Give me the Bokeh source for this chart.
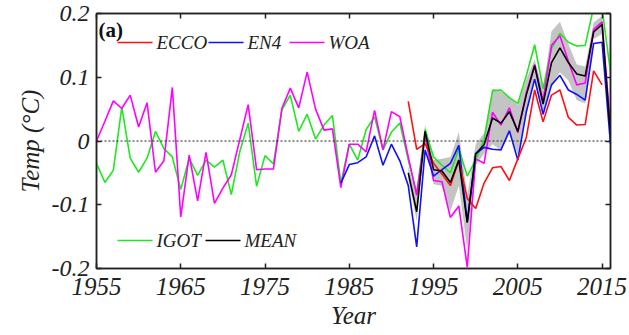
from bokeh.plotting import figure
from bokeh.models import (Span, Label, LinearAxis, FixedTicker, Range1d, Arrow)
from bokeh.embed import file_html
from bokeh.resources import INLINE

# ---------------- data ----------------
years_long = list(range(1955, 2017))
woa = [0.000, 0.031, 0.063, 0.051, 0.072, 0.022, 0.060, -0.049, -0.031, 0.084,
       -0.119, -0.022, -0.094, -0.018, -0.098, -0.074, -0.053, 0.002, 0.057, -0.045,
       -0.044, -0.044, 0.051, 0.083, 0.052, 0.108, 0.050, 0.017, 0.019, -0.073,
       -0.005, -0.005, -0.017, 0.048, -0.014, 0.046, 0.038, -0.025, -0.085, 0.010,
       -0.062, -0.064, -0.120, -0.102, -0.198, -0.028, -0.035, 0.045, 0.025, 0.052,
       0.013, 0.075, 0.120, 0.063, 0.150, 0.165, 0.125, 0.088, 0.091, 0.175,
       0.187, 0.020]
igot = [-0.035, -0.065, -0.046, 0.053, -0.027, -0.049, -0.027, 0.015, -0.012, -0.025,
        -0.076, -0.027, -0.054, -0.030, -0.041, -0.030, -0.084, -0.017, 0.028, -0.071,
        -0.023, -0.036, 0.049, 0.072, 0.015, 0.042, 0.003, 0.025, 0.040, -0.066,
        -0.005, -0.030, 0.018, 0.038, -0.014, 0.014, 0.028, -0.030, -0.082, 0.018,
        -0.025, -0.038, -0.050, -0.012, -0.055, -0.030, 0.002, 0.079, 0.080, 0.068,
        0.059, 0.102, 0.151, 0.082, 0.145, 0.169, 0.155, 0.149, 0.150, 0.210,
        0.208, 0.108]

years_en4 = list(range(1984, 2017))
en4 = [-0.066, -0.037, -0.034, -0.025, 0.008, -0.038, -0.005, -0.031, -0.070, -0.166,
       -0.014, -0.055, -0.045, -0.035, -0.007, -0.127, -0.020, -0.010, -0.013, -0.014,
       0.016, -0.030, 0.045, 0.097, 0.042, 0.088, 0.103, 0.080, 0.073, 0.064,
       0.153, 0.155, -0.005]

years_ecco = list(range(1992, 2016))
ecco = [0.062, -0.013, -0.004, -0.035, -0.052, -0.070, -0.030, -0.090, -0.106, -0.066,
        -0.042, -0.040, -0.062, -0.028, 0.005, 0.080, 0.030, 0.072, 0.080, 0.037,
        0.025, 0.026, 0.110, 0.088]

years_mean = list(range(1992, 2017))
mean = [-0.050, -0.111, 0.015, -0.045, -0.047, -0.065, -0.030, -0.128, -0.020, -0.006,
        0.036, 0.028, 0.046, 0.015, 0.072, 0.118, 0.058, 0.123, 0.146, 0.123,
        0.105, 0.102, 0.171, 0.183, 0.010]
band_lo = [-0.060, -0.125, 0.000, -0.068, -0.070, -0.110, -0.070, -0.170, -0.038, -0.020,
           -0.005, -0.015, 0.012, -0.022, 0.045, 0.095, 0.040, 0.088, 0.108, 0.095,
           0.064, 0.059, 0.160, 0.168, 0.000]
band_hi = [-0.040, -0.085, 0.025, -0.030, -0.028, -0.025, 0.014, -0.085, -0.005, 0.012,
           0.082, 0.078, 0.068, 0.057, 0.097, 0.128, 0.080, 0.172, 0.187, 0.152,
           0.120, 0.117, 0.186, 0.196, 0.020]

x_ticks = [1955, 1965, 1975, 1985, 1995, 2005, 2015]
y_ticks = [-0.2, -0.1, 0, 0.1, 0.2]
y_tick_labels = {-0.2: "-0.2", -0.1: "-0.1", 0: "0", 0.1: "0.1", 0.2: "0.2"}

SERIF = "Liberation Serif"
INK = "#222222"

p = figure(width=629, height=335, output_backend="svg", toolbar_location=None,
           x_range=Range1d(1955, 2016), y_range=Range1d(-0.2, 0.2),
           min_border_left=96, min_border_right=19, min_border_top=13,
           min_border_bottom=67)
p.background_fill_color = "white"
p.border_fill_color = "white"
p.outline_line_color = INK
p.outline_line_width = 1.5
p.grid.visible = False

bottom = p.below[0]
left = p.left[0]

# band and zero line
p.varea(x=years_mean, y1=band_lo, y2=band_hi, fill_color="#c4c4c4", fill_alpha=1.0)
p.add_layout(Span(location=0, dimension="width", line_color=INK,
                  line_dash="2 2", line_width=1.2))

lw = 1.6
COL = {"ECCO": "#ff1010", "EN4": "#1010ff", "WOA": "#ff00ff", "IGOT": "#22e622",
       "MEAN": "black"}
p.line(years_long, igot, line_color=COL["IGOT"], line_width=lw)
p.line(years_long, woa, line_color=COL["WOA"], line_width=lw)
p.line(years_en4, en4, line_color=COL["EN4"], line_width=lw)
p.line(years_ecco, ecco, line_color=COL["ECCO"], line_width=lw)
p.line(years_mean, mean, line_color=COL["MEAN"], line_width=lw)

# top / right axes: ticks only
top = LinearAxis(ticker=FixedTicker(ticks=x_ticks), major_label_standoff=0,
                 major_label_text_font_size="4px",
                 major_label_overrides={t: "" for t in x_ticks})
right = LinearAxis(ticker=FixedTicker(ticks=y_ticks), major_label_standoff=0,
                   major_label_text_font_size="4px",
                   major_label_overrides={t: "" for t in y_ticks})
p.add_layout(top, "above")
p.add_layout(right, "right")

for ax in (bottom, left, top, right):
    ax.axis_line_color = INK
    ax.axis_line_width = 1.5
    ax.major_tick_in = 5
    ax.major_tick_out = 0
    ax.minor_tick_in = 0
    ax.minor_tick_out = 0
    ax.major_tick_line_color = INK
    ax.major_tick_line_width = 1.5
    ax.major_label_text_font = SERIF
    ax.major_label_text_font_style = "italic"
    ax.major_label_text_color = INK
    ax.axis_label_text_font = SERIF
    ax.axis_label_text_font_style = "italic"
    ax.axis_label_text_color = INK

bottom.ticker = FixedTicker(ticks=x_ticks)
bottom.major_label_text_font_size = "25px"
bottom.major_label_standoff = 9
bottom.axis_label = "Year"
bottom.axis_label_text_font_size = "25px"
bottom.axis_label_standoff = 4

left.ticker = FixedTicker(ticks=y_ticks)
left.major_label_overrides = y_tick_labels
left.major_label_text_font_size = "24px"
left.major_label_standoff = 7
left.axis_label = "Temp (°C)"
left.axis_label_text_font_size = "25px"
left.axis_label_standoff = 5

# legends (frame-relative screen positions)
legend_rows = [
    (226, [("ECCO", 21), ("EN4", 112), ("WOA", 193)]),
    (28, [("IGOT", 21), ("MEAN", 109)]),
]
for ypos, entries in legend_rows:
    for name, x0 in entries:
        p.add_layout(Arrow(end=None, x_start=x0, y_start=ypos, x_end=x0 + 35, y_end=ypos,
                           start_units="screen", end_units="screen",
                           line_color=COL[name], line_width=lw))
        p.add_layout(Label(x=x0 + 39, y=ypos, x_units="screen", y_units="screen",
                           text=name, text_font=SERIF, text_font_style="italic",
                           text_font_size="19px", text_color=INK,
                           text_baseline="middle", text_align="left"))

p.add_layout(Label(x=2, y=239, x_units="screen", y_units="screen", text="(a)",
                   text_font=SERIF, text_font_style="bold", text_font_size="21px",
                   text_color="#111111", text_baseline="middle"))

open("out.html", "w").write(file_html(p, INLINE))
